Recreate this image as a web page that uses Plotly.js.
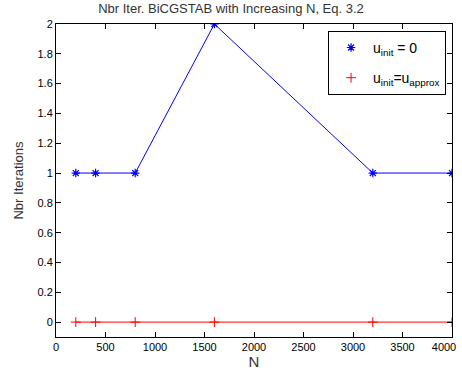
<!DOCTYPE html>
<html><head><meta charset="utf-8">
<script src="https://cdn.plot.ly/plotly-3.0.1.min.js"></script>
<style>body{margin:0;background:#fff}</style>
</head><body>
<div id="chart" style="width:462px;height:378px"></div>
<script>
const N = [200, 400, 800, 1600, 3200, 4000];
const itersZero = [1, 1, 1, 2, 1, 1];
const itersApprox = [0, 0, 0, 0, 0, 0];
const xTicks = [0, 500, 1000, 1500, 2000, 2500, 3000, 3500, 4000];
const yTicks = [0, 0.2, 0.4, 0.6, 0.8, 1, 1.2, 1.4, 1.6, 1.8, 2];
const names = ['u<sub>init</sub> = 0', 'u<sub>init</sub>=u<sub>approx</sub>'];

const traces = [
  {x: N, y: itersZero, mode: 'lines', showlegend: false, legendgroup: 'a',
   line: {color: '#0000ff', width: 1}},
  {x: N, y: itersApprox, mode: 'lines', showlegend: false, legendgroup: 'b',
   line: {color: '#ff0000', width: 1}},
  {x: N, y: itersZero, mode: 'markers', name: names[0], legendgroup: 'a',
   marker: {symbol: 'asterisk-open', size: 7, color: '#0000ff', line: {color: '#0000ff', width: 1.2}}},
  {x: N, y: itersApprox, mode: 'markers', name: names[1], legendgroup: 'b',
   marker: {symbol: 'cross-thin-open', size: 7, color: '#ff0000', line: {color: '#ff0000', width: 1}}}
];
const axBase = {showgrid: false, zeroline: false, showline: true, linecolor: '#000', linewidth: 1,
  mirror: 'ticks', ticks: 'inside', ticklen: 5, tickcolor: '#000', ticklabeloverflow: 'allow',
  tickfont: {family: 'Liberation Sans, Arial, sans-serif', size: 11, color: '#000'}};
const layout = {
  width: 462, height: 378,
  margin: {l: 56, r: 10, t: 24, b: 41},
  paper_bgcolor: '#fff', plot_bgcolor: '#fff',
  font: {family: 'Liberation Sans, Arial, sans-serif', color: '#000'},
  title: {text: 'Nbr Iter. BiCGSTAB with Increasing N, Eq. 3.2', x: 0.5, xanchor: 'center', y: 0.99, yanchor: 'top',
    font: {size: 13, color: '#333'}},
  xaxis: Object.assign({}, axBase, {range: [0, 4000], tickvals: xTicks, ticktext: xTicks.map(String),
    title: {text: 'N', font: {size: 15, color: '#333'}, standoff: 4}}),
  yaxis: Object.assign({}, axBase, {range: [-0.1, 2], tickvals: yTicks, ticktext: yTicks.map(String),
    title: {text: 'Nbr Iterations', font: {size: 13, color: '#333'}, standoff: 10}}),
  showlegend: true,
  legend: {x: 0.985, y: 0.978, xanchor: 'right', yanchor: 'top', bgcolor: '#fff', bordercolor: '#000', borderwidth: 1,
    font: {size: 14, color: '#000'}, traceorder: 'grouped', tracegroupgap: 9, itemwidth: 34}
};
Plotly.newPlot('chart', traces, layout, {displayModeBar: false, staticPlot: true}).then(function (gd) {
  // shift the last x tick label left so it stays inside the page, as in the reference
  gd.querySelectorAll('.xtick text').forEach(function (t) {
    if (t.textContent === String(xTicks[xTicks.length - 1])) {
      t.setAttribute('transform', (t.getAttribute('transform') || '') + ' translate(-8,0)');
    }
  });
});
</script>
</body></html>
